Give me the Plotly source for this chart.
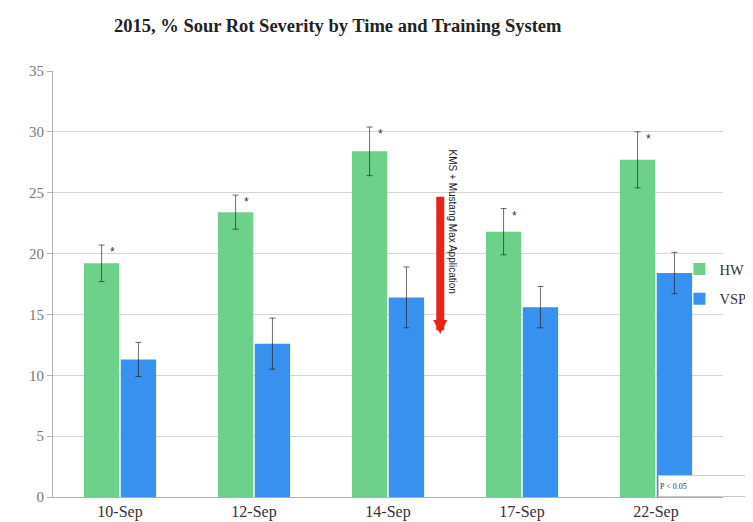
import plotly.graph_objects as go

categories = ["10-Sep", "12-Sep", "14-Sep", "17-Sep", "22-Sep"]
hw = [19.2, 23.4, 28.4, 21.8, 27.7]
hw_err = [1.5, 1.4, 2.0, 1.9, 2.3]
vsp = [11.3, 12.6, 16.4, 15.6, 18.4]
vsp_err = [1.4, 2.1, 2.5, 1.7, 1.7]
sig = ["*", "*", "*", "*", "*"]
y_ticks = [0, 5, 10, 15, 20, 25, 30, 35]

arrow_top = 24.8
arrow_tip = 13.4
arrow_label = "KMS + Mustang Max Application"

serif = "Liberation Serif"
green = "#6dd18b"
blue = "#3890ef"
errc = "rgba(30,30,30,0.65)"

fig = go.Figure()
fig.add_trace(go.Bar(
    name="HW", x=categories, y=hw, marker=dict(color=green, line=dict(width=0)),
    error_y=dict(type="data", array=hw_err, color=errc, thickness=1, width=3),
    legendgroup="a",
))
fig.add_trace(go.Bar(
    name="VSP", x=categories, y=vsp, marker=dict(color=blue, line=dict(width=0)),
    error_y=dict(type="data", array=vsp_err, color=errc, thickness=1, width=3),
    legendgroup="b",
))

# significance asterisks near HW error-bar tops
for c, v, e, s in zip(categories, hw, hw_err, sig):
    fig.add_annotation(x=c, y=v + e, xref="x", yref="y", text=s, showarrow=False,
                       xshift=-8, yshift=-7, font=dict(family="Liberation Sans", size=12, color="#333"))

# treatment arrow
fig.add_annotation(x=2.39, y=arrow_tip, ax=2.39, ay=arrow_top, xref="x", yref="y",
                   axref="x", ayref="y", text="", showarrow=True, arrowhead=2,
                   arrowsize=0.35, arrowwidth=8, arrowcolor="#e8231c")
fig.add_annotation(x=2.48, y=22.6, xref="x", yref="y",
                   text=arrow_label, textangle=90, showarrow=False,
                   font=dict(family="Liberation Sans", size=10, color="#222"))

# P-value box
fig.add_annotation(x=0.903, y=0, xref="paper", yref="paper", xanchor="left", yanchor="bottom",
                   text="P < 0.05", showarrow=False, align="left", width=130, height=18,
                   bgcolor="white", bordercolor="#c8c8c8", borderwidth=1, borderpad=1,
                   font=dict(family=serif, size=8, color="#333"))

fig.update_layout(
    width=753, height=522,
    margin=dict(l=45, r=38, t=63, b=33, autoexpand=False),
    paper_bgcolor="white", plot_bgcolor="white",
    barmode="group", bargap=0.45, bargroupgap=0.04,
    title=dict(text="<b>2015, % Sour Rot Severity by Time and Training System</b>",
               x=0.425, xref="paper", xanchor="center", y=0.967, yanchor="middle",
               font=dict(family=serif, size=18.5, color="#222")),
    legend=dict(x=0.935, xanchor="left", y=0.5, yanchor="middle",
                bgcolor="rgba(0,0,0,0)", tracegroupgap=8,
                font=dict(family=serif, size=14.5, color="#333"),
                itemwidth=30),
    showlegend=True,
)
fig.update_xaxes(showline=True, linecolor="#b0b0b0", linewidth=1, ticks="",
                 tickfont=dict(family=serif, size=16, color="#333"), showgrid=False)
fig.update_yaxes(range=[0, 35], tickvals=y_ticks, showgrid=True, gridcolor="#d6d6d6",
                 gridwidth=1, showline=True, linecolor="#b0b0b0", linewidth=1,
                 ticks="outside", ticklen=5, tickcolor="#b0b0b0", zeroline=False,
                 tickprefix="<b>", ticksuffix="</b>",
                 tickfont=dict(family=serif, size=15, color="#777"))

fig.write_html("out.html")
